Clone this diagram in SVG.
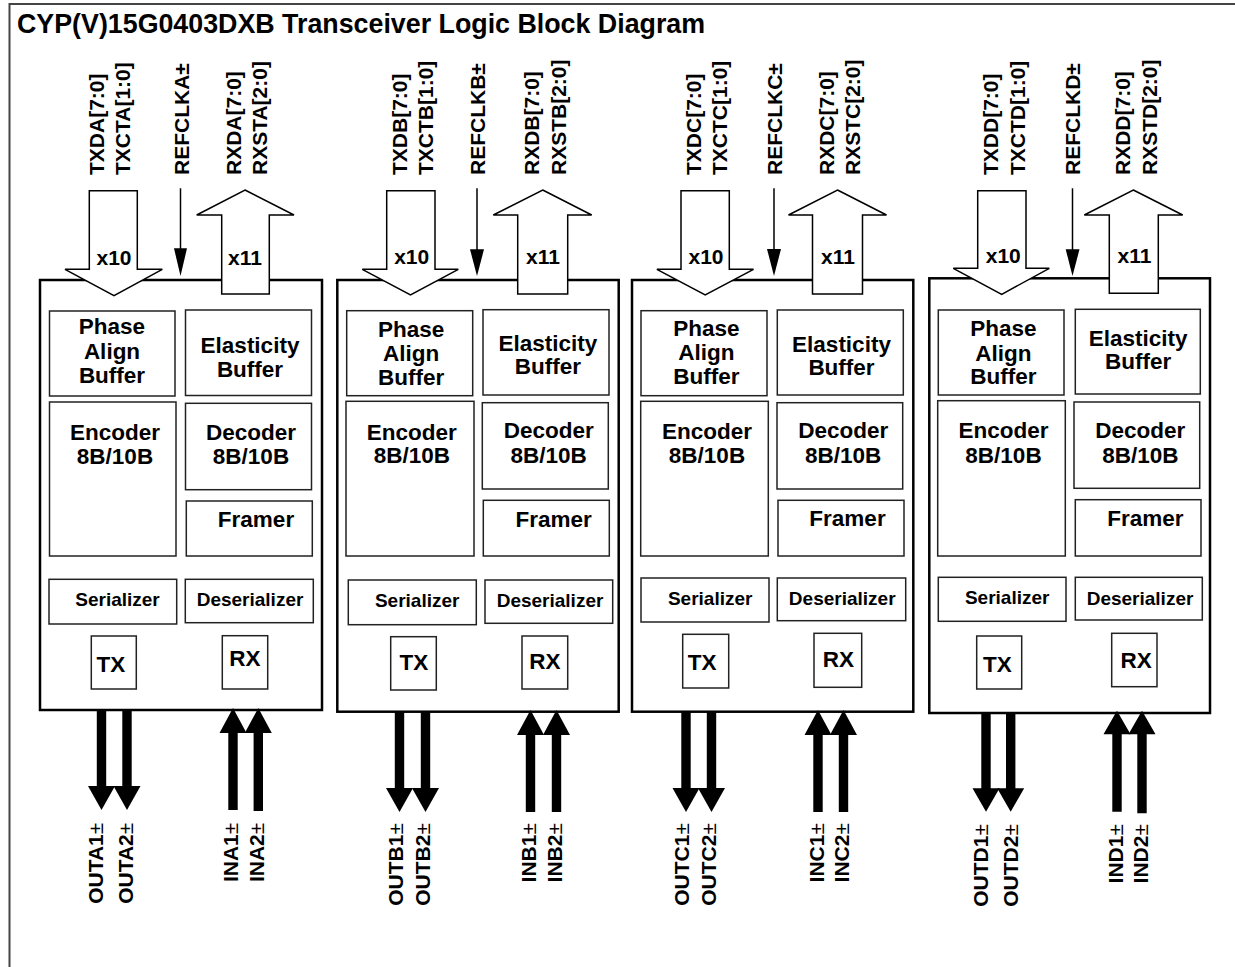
<svg xmlns="http://www.w3.org/2000/svg" width="1235" height="967" viewBox="0 0 1235 967">
<style>
.frame{fill:none;stroke:#444;stroke-width:2}
.blk{fill:#fff;stroke:#000;stroke-width:2.5}
.box{fill:none;stroke:#222;stroke-width:1.5}
text{font-family:"Liberation Sans",Arial,Helvetica,sans-serif;font-weight:bold;fill:#000}
.c{text-anchor:middle}
.big{font-size:22.5px}
.med{font-size:19px}
.lbl{font-size:21px}
.title{font-size:26.8px}
.hollow{fill:#fff;stroke:#000;stroke-width:1.5}
.solid{fill:#000;stroke:none}
.thin{stroke:#000;stroke-width:1.5;fill:none}
.pm{font-weight:normal}
</style>
<path class="frame" d="M9.5,967 V4 H1235"/>
<text class="title" x="17" y="32.5">CYP(V)15G0403DXB Transceiver Logic Block Diagram</text>

<g id="channelA">
<rect class="blk" x="40" y="280" width="282" height="430"/>
<rect class="box" x="49.5" y="311" width="125.5" height="85"/>
<rect class="box" x="185.5" y="310" width="126" height="85.5"/>
<rect class="box" x="49.5" y="402" width="126.5" height="154"/>
<rect class="box" x="185.5" y="403.3" width="126" height="86.4"/>
<rect class="box" x="186.3" y="501" width="126" height="55"/>
<rect class="box" x="49" y="579.3" width="127.7" height="44.7"/>
<rect class="box" x="185.3" y="579.3" width="128" height="43.4"/>
<rect class="box" x="91.3" y="636" width="45" height="53"/>
<rect class="box" x="222.3" y="635.7" width="45.4" height="53.3"/>
<text class="c big" x="112" y="334">Phase</text>
<text class="c big" x="112" y="359">Align</text>
<text class="c big" x="112" y="383">Buffer</text>
<text class="c big" x="250" y="352.7">Elasticity</text>
<text class="c big" x="250" y="376.7">Buffer</text>
<text class="c big" x="115" y="440">Encoder</text>
<text class="c big" x="115" y="464">8B/10B</text>
<text class="c big" x="251" y="440">Decoder</text>
<text class="c big" x="251" y="464">8B/10B</text>
<text class="c big" x="256" y="526.7">Framer</text>
<text class="c med" x="117.5" y="606">Serializer</text>
<text class="c med" x="250" y="606">Deserializer</text>
<text class="c big" x="111" y="671.7">TX</text>
<text class="c big" x="245" y="666">RX</text>
</g>

<g id="channelB">
<rect class="blk" x="337.3" y="280" width="281.4" height="431.7"/>
<rect class="box" x="346.7" y="310.7" width="126" height="85"/>
<rect class="box" x="483" y="309.7" width="126" height="85.3"/>
<rect class="box" x="346" y="401.3" width="128" height="154.7"/>
<rect class="box" x="482.3" y="402.7" width="126" height="86.3"/>
<rect class="box" x="483.3" y="500.3" width="126" height="55.7"/>
<rect class="box" x="348.3" y="580" width="128" height="44.7"/>
<rect class="box" x="485" y="580" width="127.7" height="43.3"/>
<rect class="box" x="390.7" y="636.7" width="45.6" height="53.3"/>
<rect class="box" x="522" y="636" width="45.7" height="53"/>
<text class="c big" x="411.2" y="336.7">Phase</text>
<text class="c big" x="411.2" y="361">Align</text>
<text class="c big" x="411.2" y="385">Buffer</text>
<text class="c big" x="547.8" y="351">Elasticity</text>
<text class="c big" x="547.8" y="374.3">Buffer</text>
<text class="c big" x="411.8" y="440">Encoder</text>
<text class="c big" x="411.8" y="463.3">8B/10B</text>
<text class="c big" x="548.7" y="438.3">Decoder</text>
<text class="c big" x="548.7" y="462.7">8B/10B</text>
<text class="c big" x="553.7" y="526.7">Framer</text>
<text class="c med" x="417.2" y="607">Serializer</text>
<text class="c med" x="550" y="607">Deserializer</text>
<text class="c big" x="414" y="670">TX</text>
<text class="c big" x="544.8" y="669">RX</text>
</g>

<g id="channelC">
<rect class="blk" x="632" y="280" width="281.3" height="431.7"/>
<rect class="box" x="641" y="310.7" width="126" height="85"/>
<rect class="box" x="777.3" y="310" width="126" height="85"/>
<rect class="box" x="640.7" y="401.3" width="127.6" height="154.7"/>
<rect class="box" x="777" y="402.7" width="125.7" height="86.3"/>
<rect class="box" x="778" y="500.3" width="126" height="55.7"/>
<rect class="box" x="641" y="578" width="128" height="44"/>
<rect class="box" x="777.3" y="578" width="128.4" height="42.7"/>
<rect class="box" x="682.7" y="634.3" width="46" height="53.7"/>
<rect class="box" x="814" y="633.3" width="47.7" height="54"/>
<text class="c big" x="706.3" y="335.7">Phase</text>
<text class="c big" x="706.3" y="360">Align</text>
<text class="c big" x="706.3" y="384.3">Buffer</text>
<text class="c big" x="841.5" y="351.7">Elasticity</text>
<text class="c big" x="841.5" y="375">Buffer</text>
<text class="c big" x="707" y="439">Encoder</text>
<text class="c big" x="707" y="463.3">8B/10B</text>
<text class="c big" x="843.2" y="438.3">Decoder</text>
<text class="c big" x="843.2" y="462.7">8B/10B</text>
<text class="c big" x="847.5" y="526">Framer</text>
<text class="c med" x="710.2" y="604.5">Serializer</text>
<text class="c med" x="842.2" y="605">Deserializer</text>
<text class="c big" x="702.2" y="670">TX</text>
<text class="c big" x="838.3" y="667.3">RX</text>
</g>

<g id="channelD">
<rect class="blk" x="929.3" y="278.3" width="280.7" height="434.7"/>
<rect class="box" x="938.3" y="310" width="125.7" height="85"/>
<rect class="box" x="1075.3" y="309.3" width="125" height="84.7"/>
<rect class="box" x="937.7" y="400.7" width="127.6" height="155.3"/>
<rect class="box" x="1074" y="402" width="125.7" height="86.3"/>
<rect class="box" x="1075.3" y="499.7" width="125.7" height="56.3"/>
<rect class="box" x="938.3" y="577.3" width="127.7" height="44"/>
<rect class="box" x="1075.3" y="577.3" width="127" height="42.7"/>
<rect class="box" x="976.7" y="636" width="45" height="53"/>
<rect class="box" x="1111.7" y="633.3" width="45.3" height="53.4"/>
<text class="c big" x="1003.3" y="336">Phase</text>
<text class="c big" x="1003.3" y="360.7">Align</text>
<text class="c big" x="1003.3" y="384.3">Buffer</text>
<text class="c big" x="1138.2" y="346">Elasticity</text>
<text class="c big" x="1138.2" y="369.3">Buffer</text>
<text class="c big" x="1003.5" y="438.3">Encoder</text>
<text class="c big" x="1003.5" y="462.7">8B/10B</text>
<text class="c big" x="1140.3" y="438.3">Decoder</text>
<text class="c big" x="1140.3" y="462.7">8B/10B</text>
<text class="c big" x="1145.3" y="526">Framer</text>
<text class="c med" x="1007.2" y="604.3">Serializer</text>
<text class="c med" x="1140" y="604.5">Deserializer</text>
<text class="c big" x="997.3" y="671.7">TX</text>
<text class="c big" x="1136.2" y="667.7">RX</text>
</g>

<g id="connectors">
<!-- channel A -->
<polygon class="hollow" points="89.3,190.7 137.3,190.7 137.3,269.3 162.3,269.3 114,295.7 65,269.3 89.3,269.3"/>
<polygon class="hollow" points="245,190 294,215 269.3,215 269.3,294 221.7,294 221.7,215 196.7,215"/>
<line class="thin" x1="180.5" y1="188.3" x2="180.5" y2="250"/>
<polygon class="solid" points="174,248.3 187,248.3 180.5,276"/>
<text class="c lbl" x="114" y="265">x10</text>
<text class="c lbl" x="245" y="265">x11</text>
<polygon class="solid" points="96.8,710 106.2,710 106.2,786 115,786 101.5,810 88,786 96.8,786"/>
<polygon class="solid" points="122.3,710 131.7,710 131.7,786 140.5,786 127,810 113.5,786 122.3,786"/>
<polygon class="solid" points="233,708 246.5,733 237.7,733 237.7,810 228.3,810 228.3,733 219.5,733"/>
<polygon class="solid" points="258.3,708 271.8,733 263,733 263,811 253.6,811 253.6,733 244.8,733"/>
<!-- channel B -->
<polygon class="hollow" points="386.7,190.7 435,190.7 435,269.3 458.3,269.3 410.5,295 362.3,269.3 386.7,269.3"/>
<polygon class="hollow" points="542.7,190 591.7,215 567.7,215 567.7,294 517.7,294 517.7,215 493.3,215"/>
<line class="thin" x1="477" y1="188.3" x2="477" y2="251"/>
<polygon class="solid" points="470,249.3 484,249.3 477,276"/>
<text class="c lbl" x="411.7" y="264">x10</text>
<text class="c lbl" x="543" y="264">x11</text>
<polygon class="solid" points="394.8,711 404.2,711 404.2,788 413,788 399.5,812 386,788 394.8,788"/>
<polygon class="solid" points="420.8,711 430.2,711 430.2,788 439,788 425.5,812 412,788 420.8,788"/>
<polygon class="solid" points="530.5,710 544,735 535.2,735 535.2,812 525.8,812 525.8,735 517,735"/>
<polygon class="solid" points="556.5,710 570,735 561.2,735 561.2,812 551.8,812 551.8,735 543,735"/>
<!-- channel C -->
<polygon class="hollow" points="681,190.7 729.3,190.7 729.3,269.3 753.5,269.3 705.2,295 656.9,269.3 681,269.3"/>
<polygon class="hollow" points="837.5,190 886.5,215 862.5,215 862.5,294 812.5,294 812.5,215 788.5,215"/>
<line class="thin" x1="774" y1="188.3" x2="774" y2="251"/>
<polygon class="solid" points="767,249 781,249 774,276"/>
<text class="c lbl" x="706" y="264">x10</text>
<text class="c lbl" x="838" y="264">x11</text>
<polygon class="solid" points="681.3,711 690.7,711 690.7,788 699.5,788 686,812 672.5,788 681.3,788"/>
<polygon class="solid" points="706.8,711 716.2,711 716.2,788 725,788 711.5,812 698,788 706.8,788"/>
<polygon class="solid" points="818,710 831.5,735 822.7,735 822.7,812 813.3,812 813.3,735 804.5,735"/>
<polygon class="solid" points="843.5,710 857,735 848.2,735 848.2,812 838.8,812 838.8,735 830,735"/>
<!-- channel D -->
<polygon class="hollow" points="977.7,190.7 1026,190.7 1026,268.3 1049.3,268.3 1001.7,294.3 953.3,268.3 977.7,268.3"/>
<polygon class="hollow" points="1133.3,190 1182.7,215 1158.3,215 1158.3,293.3 1109.3,293.3 1109.3,215 1084.3,215"/>
<line class="thin" x1="1072.5" y1="188.3" x2="1072.5" y2="251"/>
<polygon class="solid" points="1065.7,249.3 1079.5,249.3 1072.5,276"/>
<text class="c lbl" x="1003.3" y="263.3">x10</text>
<text class="c lbl" x="1134.5" y="263.3">x11</text>
<polygon class="solid" points="981.3,712 990.7,712 990.7,788.3 999.5,788.3 986,811.7 972.5,788.3 981.3,788.3"/>
<polygon class="solid" points="1006,712 1015.4,712 1015.4,788.3 1024.2,788.3 1010.7,811.7 997.2,788.3 1006,788.3"/>
<polygon class="solid" points="1117,710.7 1130.5,734.3 1121.7,734.3 1121.7,811.7 1112.3,811.7 1112.3,734.3 1103.5,734.3"/>
<polygon class="solid" points="1142,710.7 1155.5,734.3 1146.7,734.3 1146.7,813.3 1137.3,813.3 1137.3,734.3 1128.5,734.3"/>
</g>

<g id="pin-labels">
<text class="lbl" transform="translate(104,175) rotate(-90)">TXDA[7:0]</text>
<text class="lbl" transform="translate(130,175) rotate(-90)">TXCTA[1:0]</text>
<text class="lbl" transform="translate(188.5,175) rotate(-90)">REFCLKA±</text>
<text class="lbl" transform="translate(241,175) rotate(-90)">RXDA[7:0]</text>
<text class="lbl" transform="translate(267,175) rotate(-90)">RXSTA[2:0]</text>
<text class="lbl" transform="translate(406.7,175) rotate(-90)">TXDB[7:0]</text>
<text class="lbl" transform="translate(433.3,175) rotate(-90)">TXCTB[1:0]</text>
<text class="lbl" transform="translate(485,175) rotate(-90)">REFCLKB±</text>
<text class="lbl" transform="translate(539.3,175) rotate(-90)">RXDB[7:0]</text>
<text class="lbl" transform="translate(565.7,175) rotate(-90)">RXSTB[2:0]</text>
<text class="lbl" transform="translate(700.5,175) rotate(-90)">TXDC[7:0]</text>
<text class="lbl" transform="translate(727,175) rotate(-90)">TXCTC[1:0]</text>
<text class="lbl" transform="translate(782,175) rotate(-90)">REFCLKC±</text>
<text class="lbl" transform="translate(833.5,175) rotate(-90)">RXDC[7:0]</text>
<text class="lbl" transform="translate(860,175) rotate(-90)">RXSTC[2:0]</text>
<text class="lbl" transform="translate(998.3,175) rotate(-90)">TXDD[7:0]</text>
<text class="lbl" transform="translate(1025,175) rotate(-90)">TXCTD[1:0]</text>
<text class="lbl" transform="translate(1080,175) rotate(-90)">REFCLKD±</text>
<text class="lbl" transform="translate(1130,175) rotate(-90)">RXDD[7:0]</text>
<text class="lbl" transform="translate(1156.7,175) rotate(-90)">RXSTD[2:0]</text>

<text class="lbl" text-anchor="end" transform="translate(103.3,822.7) rotate(-90)">OUTA1<tspan class="pm">±</tspan></text>
<text class="lbl" text-anchor="end" transform="translate(133,822.7) rotate(-90)">OUTA2<tspan class="pm">±</tspan></text>
<text class="lbl" text-anchor="end" transform="translate(238.3,822.7) rotate(-90)">INA1<tspan class="pm">±</tspan></text>
<text class="lbl" text-anchor="end" transform="translate(264,822.7) rotate(-90)">INA2<tspan class="pm">±</tspan></text>
<text class="lbl" text-anchor="end" transform="translate(403,823) rotate(-90)">OUTB1<tspan class="pm">±</tspan></text>
<text class="lbl" text-anchor="end" transform="translate(430,823) rotate(-90)">OUTB2<tspan class="pm">±</tspan></text>
<text class="lbl" text-anchor="end" transform="translate(536,823) rotate(-90)">INB1<tspan class="pm">±</tspan></text>
<text class="lbl" text-anchor="end" transform="translate(562,823) rotate(-90)">INB2<tspan class="pm">±</tspan></text>
<text class="lbl" text-anchor="end" transform="translate(689,823) rotate(-90)">OUTC1<tspan class="pm">±</tspan></text>
<text class="lbl" text-anchor="end" transform="translate(716,823) rotate(-90)">OUTC2<tspan class="pm">±</tspan></text>
<text class="lbl" text-anchor="end" transform="translate(823.5,823) rotate(-90)">INC1<tspan class="pm">±</tspan></text>
<text class="lbl" text-anchor="end" transform="translate(849,823) rotate(-90)">INC2<tspan class="pm">±</tspan></text>
<text class="lbl" text-anchor="end" transform="translate(988.3,824) rotate(-90)">OUTD1<tspan class="pm">±</tspan></text>
<text class="lbl" text-anchor="end" transform="translate(1018.3,824) rotate(-90)">OUTD2<tspan class="pm">±</tspan></text>
<text class="lbl" text-anchor="end" transform="translate(1122.7,824) rotate(-90)">IND1<tspan class="pm">±</tspan></text>
<text class="lbl" text-anchor="end" transform="translate(1148.3,824) rotate(-90)">IND2<tspan class="pm">±</tspan></text>
</g>
</svg>
